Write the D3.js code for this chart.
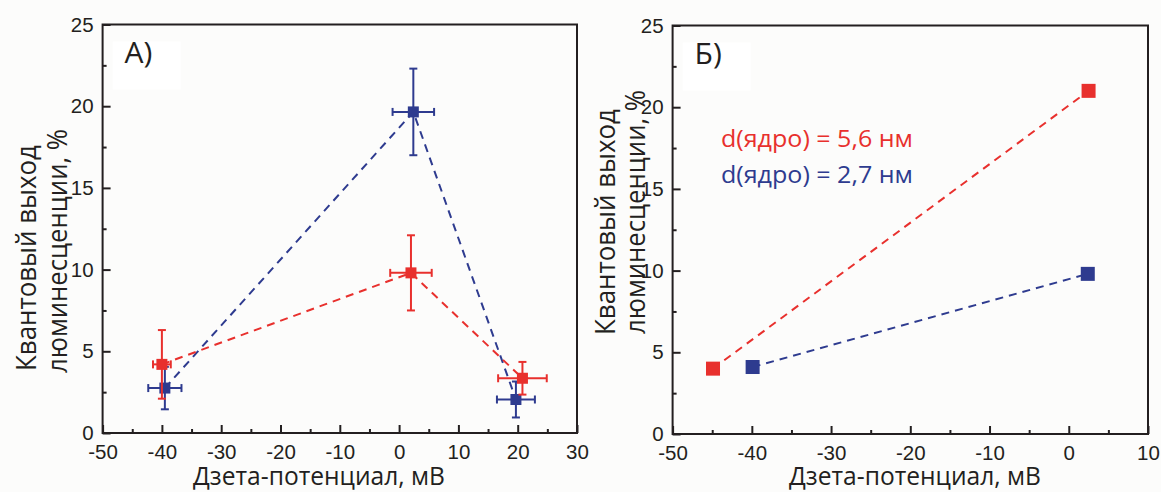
<!DOCTYPE html>
<html>
<head>
<meta charset="utf-8">
<script src="https://cdn.jsdelivr.net/npm/d3@7"></script>
<style>
  body { margin: 0; background: #fcfcfb; }
  svg { display: block; }
  .tick text { font-family: "Liberation Sans", Arial, sans-serif; font-size: 20.5px; fill: #231f20; }
  .tick line { stroke: #231f20; stroke-width: 2px; }
  .title { font-family: "Open Sans", sans-serif; fill: #231f20; }
</style>
</head>
<body>
<svg class="js-graph"></svg>
<script>
/* <DATA> */
var xTicksA = [-50, -40, -30, -20, -10, 0, 10, 20, 30];
var xTicksB = [-50, -40, -30, -20, -10, 0, 10];
var yTicks = [0, 5, 10, 15, 20, 25];

// panel A, core 5.6 nm (red)
var redZetaA = [-40, 2, 20.8];
var redYieldA = [4.2, 9.8, 3.35];
var redZetaErrA = [1.5, 3.5, 4.1];
var redYieldErrA = [2.1, 2.3, 1.0];

// panel A, core 2.7 nm (blue)
var blueZetaA = [-39.5, 2.4, 19.7];
var blueYieldA = [2.75, 19.65, 2.05];
var blueZetaErrA = [2.8, 3.5, 3.2];
var blueYieldErrA = [1.3, 2.65, 1.1];

// panel B
var redZetaB = [-44.9, 2.5];
var redYieldB = [4.0, 21.0];
var blueZetaB = [-39.9, 2.4];
var blueYieldB = [4.1, 9.8];

var legendLabels = ['d(ядро) = 5,6 нм', 'd(ядро) = 2,7 нм'];
var panelLabels = ['А)', 'Б)'];
var xTitle = 'Дзета-потенциал, мВ';
var yTitle = ['Квантовый выход', 'люминесценции, %'];
/* </DATA> */

var RED = '#e8302d';
var BLUE = '#2e3b8f';

var svg = d3.select('.js-graph').attr('width', 1161).attr('height', 492);

function toPoints(xs, ys, xe, ye) {
  return xs.map(function (x, i) {
    return { x: x, y: ys[i], xe: xe ? xe[i] : 0, ye: ye ? ye[i] : 0 };
  });
}

function noDomain(a) { a.select('.domain').remove(); }

function drawPanel(p) {
  var x = d3.scaleLinear().domain(p.xDomain).range([p.left, p.right]);
  var y = d3.scaleLinear().domain([0, 25]).range([p.bottom, p.top]);
  var g = svg.append('g');

  // white patch behind the panel letter (as in the scan)
  g.append('rect').attr('x', p.left + 10).attr('y', p.top + 17)
    .attr('width', 68).attr('height', 48).attr('fill', '#fff');

  // minor ticks
  var minorX = d3.range(p.xDomain[0] + 5, p.xDomain[1], 10);
  g.append('g').attr('transform', 'translate(0,' + p.bottom + ')')
    .call(d3.axisBottom(x).tickValues(minorX).tickSize(-4).tickFormat(''))
    .call(noDomain);
  g.append('g').attr('transform', 'translate(' + p.left + ',0)')
    .call(d3.axisLeft(y).tickValues([2.5, 7.5, 12.5, 17.5, 22.5]).tickSize(-4).tickFormat(''))
    .call(noDomain);

  // major ticks, plain hyphen as minus like the original
  g.append('g').attr('transform', 'translate(0,' + p.bottom + ')')
    .call(d3.axisBottom(x).tickValues(p.xTicks).tickSize(-8).tickPadding(11).tickFormat(String))
    .call(noDomain);
  g.append('g').attr('transform', 'translate(' + p.left + ',0)')
    .call(d3.axisLeft(y).tickValues(yTicks).tickSize(-8).tickPadding(9).tickFormat(String))
    .call(noDomain);

  // frame
  g.append('rect').attr('x', p.left).attr('y', p.top)
    .attr('width', p.right - p.left).attr('height', p.bottom - p.top)
    .attr('fill', 'none').attr('stroke', '#231f20').attr('stroke-width', 2);

  var line = d3.line().x(function (d) { return x(d.x); }).y(function (d) { return y(d.y); });

  p.series.forEach(function (s) {
    g.append('path').attr('d', line(s.points))
      .attr('fill', 'none').attr('stroke', s.color).attr('stroke-width', 2)
      .attr('stroke-dasharray', '8,6');

    s.points.forEach(function (d) {
      var cx = x(d.x), cy = y(d.y);
      if (d.ye) {
        g.append('line').attr('x1', cx).attr('x2', cx).attr('y1', y(d.y - d.ye)).attr('y2', y(d.y + d.ye))
          .attr('stroke', s.color).attr('stroke-width', 2);
        [d.y - d.ye, d.y + d.ye].forEach(function (v) {
          g.append('line').attr('x1', cx - 4).attr('x2', cx + 4).attr('y1', y(v)).attr('y2', y(v))
            .attr('stroke', s.color).attr('stroke-width', 2);
        });
      }
      if (d.xe) {
        g.append('line').attr('x1', x(d.x - d.xe)).attr('x2', x(d.x + d.xe)).attr('y1', cy).attr('y2', cy)
          .attr('stroke', s.color).attr('stroke-width', 2);
        [d.x - d.xe, d.x + d.xe].forEach(function (v) {
          g.append('line').attr('x1', x(v)).attr('x2', x(v)).attr('y1', cy - 4).attr('y2', cy + 4)
            .attr('stroke', s.color).attr('stroke-width', 2);
        });
      }
      g.append('rect').attr('x', cx - p.marker / 2).attr('y', cy - p.marker / 2)
        .attr('width', p.marker).attr('height', p.marker).attr('fill', s.color);
    });
  });

  // panel letter
  g.append('text').attr('class', 'title').attr('x', p.left + 22).attr('y', p.top + 38)
    .style('font-size', '30px').text(p.label);

  // axis titles (squeezed to the narrower face of the original)
  g.append('text').attr('class', 'title').attr('text-anchor', 'middle')
    .style('font-size', '25px')
    .attr('x', p.xTitleX).attr('y', 485)
    .attr('textLength', 252).attr('lengthAdjust', 'spacingAndGlyphs')
    .text(xTitle);
  yTitle.forEach(function (t, i) {
    g.append('text').attr('class', 'title').attr('text-anchor', 'middle')
      .style('font-size', '27px')
      .attr('transform', 'translate(' + p.yTitleX[i] + ',' + p.yTitleY[i] + ') rotate(-90)')
      .attr('textLength', [226, 244][i]).attr('lengthAdjust', 'spacingAndGlyphs')
      .text(t);
  });

  return { x: x, y: y, g: g };
}

drawPanel({
  left: 102.6, right: 577, top: 24.5, bottom: 433,
  xDomain: [-50, 30], xTicks: xTicksA, marker: 11, label: panelLabels[0],
  xTitleX: 319, yTitleX: [36, 67], yTitleY: [258, 251],
  series: [
    { color: BLUE, points: toPoints(blueZetaA, blueYieldA, blueZetaErrA, blueYieldErrA) },
    { color: RED, points: toPoints(redZetaA, redYieldA, redZetaErrA, redYieldErrA) }
  ]
});

var panelB = drawPanel({
  left: 672.6, right: 1148, top: 25.5, bottom: 434,
  xDomain: [-50, 10], xTicks: xTicksB, marker: 14, label: panelLabels[1],
  xTitleX: 915, yTitleX: [615, 645], yTitleY: [222, 212],
  series: [
    { color: RED, points: toPoints(redZetaB, redYieldB) },
    { color: BLUE, points: toPoints(blueZetaB, blueYieldB) }
  ]
});

// legend of panel B
[RED, BLUE].forEach(function (c, i) {
  panelB.g.append('text').attr('class', 'title').attr('x', 721).attr('y', 147 + i * 36)
    .style('font-size', '23px').style('fill', c)
    .attr('textLength', 192).attr('lengthAdjust', 'spacingAndGlyphs')
    .text(legendLabels[i]);
});
</script>
</body>
</html>
